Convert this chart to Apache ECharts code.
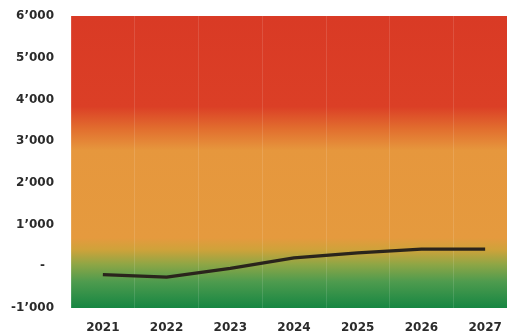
<!DOCTYPE html>
<html>
<head>
<meta charset="utf-8">
<script src="https://cdn.jsdelivr.net/npm/echarts@6/dist/echarts.min.js"></script>
<style>
  html, body { margin: 0; padding: 0; background: #ffffff; }
  #chart { width: 507px; height: 334px; }
</style>
</head>
<body>
<div id="chart"></div>
<script>
// Yearly values plotted as a single line over a traffic-light band
const years = ['2021', '2022', '2023', '2024', '2025', '2026', '2027'];
const values = [-200, -260, -50, 200, 320, 410, 410];
const yTicks = [-1000, 0, 1000, 2000, 3000, 4000, 5000, 6000];

const FONT = 'DejaVu Sans, Verdana, sans-serif';

// Swiss-style thousands separator; zero shown as a dash
function fmt(v) {
  if (v === 0) return '{z|-}';
  const s = Math.abs(v).toString().replace(/\B(?=(\d{3})+(?!\d))/g, '\u2019');
  return (v < 0 ? '-' : '') + s;
}

const chart = echarts.init(document.getElementById('chart'), null, { renderer: 'canvas' });

// red (high) -> orange -> green (low) band behind the line
const bandGradient = new echarts.graphic.LinearGradient(0, 0, 0, 1, [
  { offset: 0.00, color: '#d93a25' },
  { offset: 0.31, color: '#db3f26' },
  { offset: 0.39, color: '#e2702f' },
  { offset: 0.46, color: '#e6973d' },
  { offset: 0.76, color: '#e59a3e' },
  { offset: 0.80, color: '#cfa23a' },
  { offset: 0.85, color: '#8fa645' },
  { offset: 0.91, color: '#4e9b4e' },
  { offset: 1.00, color: '#168642' }
]);

chart.setOption({
  animation: false,
  backgroundColor: '#ffffff',
  grid: {
    left: 71, width: 446, top: 16, bottom: 26,
    outerBoundsMode: 'none',
    containLabel: false,
    show: false
  },
  xAxis: {
    type: 'category',
    data: years,
    boundaryGap: true,
    axisLine: { show: false },
    axisTick: { show: false },
    axisLabel: {
      margin: 14,
      fontFamily: FONT,
      fontWeight: 'bold',
      fontSize: 12,
      color: '#2b2b2b'
    },
    splitLine: {
      show: true,
      interval: 0,
      lineStyle: { color: 'rgba(255,255,255,0.12)', width: 1 }
    },
    z: 2
  },
  yAxis: {
    type: 'value',
    min: yTicks[0],
    max: yTicks[yTicks.length - 1],
    interval: 1000,
    axisLine: { show: false },
    axisTick: { show: false },
    splitLine: { show: false },
    axisLabel: {
      margin: 17,
      fontFamily: FONT,
      fontWeight: 'bold',
      fontSize: 12,
      color: '#2b2b2b',
      formatter: fmt,
      rich: {
        z: {
          fontFamily: FONT,
          fontWeight: 'bold',
          fontSize: 12,
          color: '#2b2b2b',
          padding: [0, 9, 0, 0]
        }
      }
    }
  },
  series: [{
    type: 'line',
    data: values,
    showSymbol: false,
    symbol: 'none',
    lineStyle: { color: '#2a241c', width: 3.2 },
    z: 3,
    markArea: {
      silent: true,
      z: 0,
      itemStyle: { color: bandGradient, borderWidth: 0 },
      data: [[{ yAxis: yTicks[0] }, { yAxis: yTicks[yTicks.length - 1] }]]
    }
  }]
});
</script>
</body>
</html>
